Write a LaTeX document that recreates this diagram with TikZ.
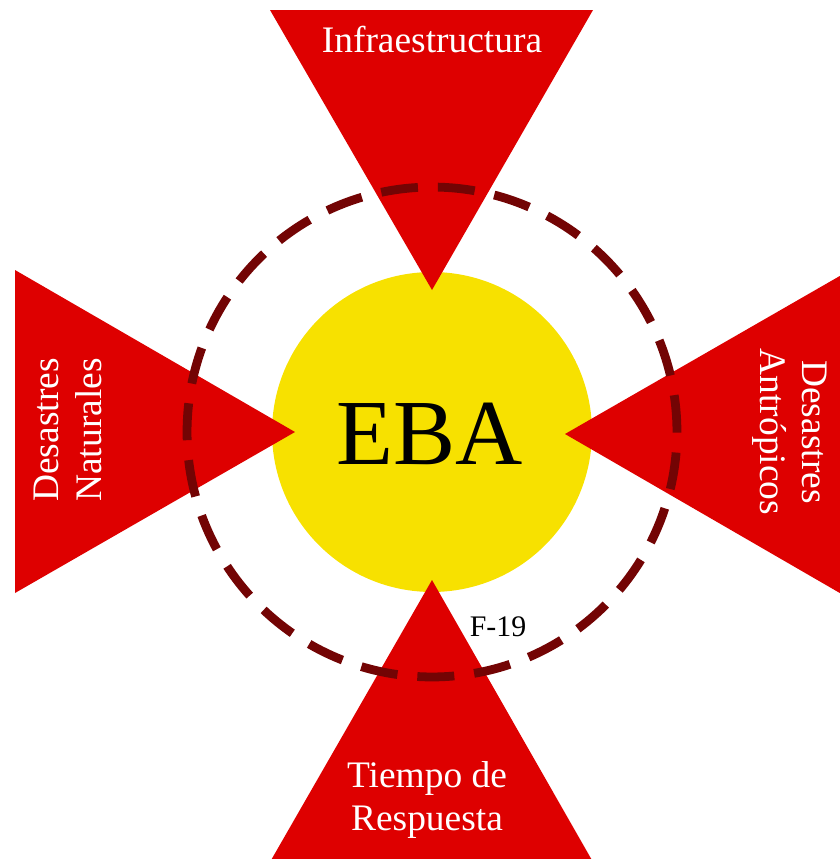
\documentclass[tikz,border=0pt]{standalone}
\usepackage{fontspec}
\setmainfont{Liberation Serif}
\definecolor{dreieckrot}{RGB}{222,0,0}
\definecolor{kreisgelb}{RGB}{247,225,0}
\definecolor{strichrot}{RGB}{115,4,4}
\tikzset{
  beschriftung/.style={text=white, font=\fontsize{21.3}{24}\selectfont, align=center, inner sep=0pt},
  dreieck/.style={fill=dreieckrot},
}
\begin{document}
\begin{tikzpicture}[x=0.02cm,y=-0.02cm]

                  % Rahmen
                  \useasboundingbox (0,0) rectangle (839,859);
                  % Mittelkreis
                  \fill[kreisgelb] (432,432) circle[radius=3.2cm];

                  % Dreiecke
                  \fill[dreieck] (270,10) -- (593,10) -- (432,290) -- cycle;   % oben
                  \fill[dreieck] (15,270) -- (15,593) -- (295,432) -- cycle;   % links
                  \fill[dreieck] (845,273) -- (845,596) -- (565,434) -- cycle; % rechts
                  \fill[dreieck] (270,862) -- (593,862) -- (432,580) -- cycle; % unten

                  % gestrichelter Kreis
                  \draw[strichrot, line width=5pt, dash pattern=on 0.74cm off 0.4cm] (432,432) circle[radius=4.9cm];

                  % Beschriftungen
                  \node[font=\fontsize{53}{60}\selectfont, inner sep=0pt] (eba) at (430,434) {EBA};
                  \node[beschriftung, anchor=base] (infra) at (432,52) {Infraestructura};
                  \node[beschriftung, rotate=90] (natur) at (68,430) {Desastres\\Naturales};
                  \node[beschriftung, rotate=-90] (antro) at (790,432) {Desastres\\Antrópicos};
                  \node[beschriftung] (tiempo) at (427,800) {Tiempo de\\Respuesta};
                  \node[font=\fontsize{17}{20}\selectfont, inner sep=0pt] (f19) at (498,627) {F-19};
              \end{tikzpicture}
\end{document}
